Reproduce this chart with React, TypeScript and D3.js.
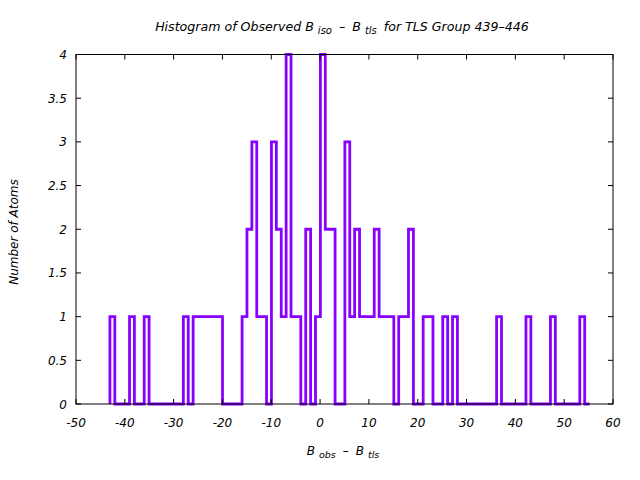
import React from "react";
import * as d3 from "d3";

const binStart = -43.05;
const binWidth = 1.0026;
const counts = [
  1, 0, 0, 0, 1, 0, 0, 1, 0, 0, 0, 0, 0, 0, 0, 1, 0, // -43 .. -27
  1, 1, 1, 1, 1, 1, // -26 .. -21
  0, 0, 0, 0, // -20 .. -17
  1, 2, 3, 1, 1, 0, // -16 .. -11
  3, 2, 1, 4, 1, 1, 0, 2, 0, 1, // -10 .. -1
  4, 2, 2, 0, 0, 3, 1, 2, 1, 1, // 0 .. 9
  1, 2, 1, 1, 1, 0, 1, 1, 2, 0, // 10 .. 19
  0, 1, 1, 0, 0, 1, 0, 1, 0, 0, // 20 .. 29
  0, 0, 0, 0, 0, 0, 1, 0, 0, 0, // 30 .. 39
  0, 0, 1, 0, 0, 0, 0, 1, 0, 0, // 40 .. 49
  0, 0, 0, 1, 0, // 50 .. 54
];
const xTicks = [-50, -40, -30, -20, -10, 0, 10, 20, 30, 40, 50, 60];
const yTicks = [0, 0.5, 1, 1.5, 2, 2.5, 3, 3.5, 4];

const W = 640;
const H = 480;
const L = 76;
const R = 613;
const T = 54.5;
const B = 404;
const FONT = "'DejaVu Sans', sans-serif";
const COLOR = "#8800ff";
const FS = 12;
const SUB = 9.5;

export default function App() {
  const x = d3.scaleLinear().domain([-50, 60]).range([L, R]);
  const y = d3.scaleLinear().domain([0, 4]).range([B, T]);

  const pts: [number, number][] = [[binStart, 0]];
  counts.forEach((c, i) => pts.push([binStart + i * binWidth, c]));
  pts.push([binStart + counts.length * binWidth, 0]);
  const line = d3
    .line<[number, number]>()
    .x((d) => x(d[0]))
    .y((d) => y(d[1]))
    .curve(d3.curveStepAfter);

  const tl = 5;
  return (
    <svg
      width={W}
      height={H}
      style={{ position: "absolute", left: 0, top: 0, background: "#fff" }}
      fontFamily={FONT}
    >
      <rect x={0} y={0} width={W} height={H} fill="#fff" />
      <path d={line(pts) || ""} fill="none" stroke={COLOR} strokeWidth={2.8} />
      <rect x={L} y={T} width={R - L} height={B - T} fill="none" stroke="#000" strokeWidth={1} />
      {xTicks.map((t) => (
        <g key={"x" + t}>
          <line x1={x(t)} x2={x(t)} y1={B} y2={B - tl} stroke="#000" />
          <line x1={x(t)} x2={x(t)} y1={T} y2={T + tl} stroke="#000" />
          <text x={x(t)} y={427} textAnchor="middle" fontSize={FS} fontStyle="italic">
            {t}
          </text>
        </g>
      ))}
      {yTicks.map((t) => (
        <g key={"y" + t}>
          <line x1={L} x2={L + tl} y1={y(t)} y2={y(t)} stroke="#000" />
          <line x1={R} x2={R - tl} y1={y(t)} y2={y(t)} stroke="#000" />
          <text x={67} y={y(t) + 4.5} textAnchor="end" fontSize={FS} fontStyle="italic">
            {t}
          </text>
        </g>
      ))}
      <text x={342} y={31} textAnchor="middle" fontSize={12.6} fontStyle="italic">
        <tspan>Histogram of Observed B</tspan>
        <tspan dx={4} dy={3} fontSize={10}>iso</tspan>
        <tspan dx={7} dy={-3}>–</tspan>
        <tspan dx={7}>B</tspan>
        <tspan dx={4} dy={3} fontSize={10}>tls</tspan>
        <tspan dx={7} dy={-3}>for TLS Group 439–446</tspan>
      </text>
      <text x={343} y={455} textAnchor="middle" fontSize={FS} fontStyle="italic">
        <tspan>B</tspan>
        <tspan dx={4} dy={3} fontSize={SUB}>obs</tspan>
        <tspan dx={7} dy={-3}>–</tspan>
        <tspan dx={7}>B</tspan>
        <tspan dx={4} dy={3} fontSize={SUB}>tls</tspan>
      </text>
      <text
        transform="translate(18,232) rotate(-90)"
        textAnchor="middle"
        fontSize={FS}
        fontStyle="italic"
      >
        Number of Atoms
      </text>
    </svg>
  );
}
